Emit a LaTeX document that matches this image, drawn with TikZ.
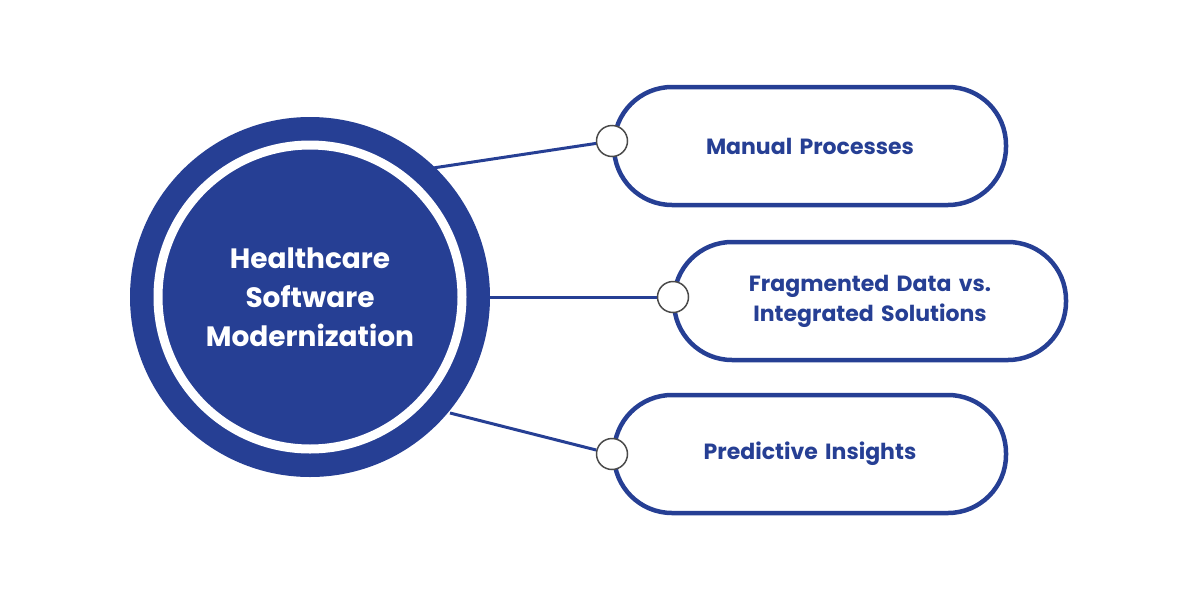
\documentclass[tikz,border=0pt]{standalone}
\usepackage{fontspec}
\setmainfont{Poppins}
\usetikzlibrary{positioning}
\definecolor{hcblue}{HTML}{263F94}
\definecolor{hcgray}{HTML}{4A4A4A}

\begin{document}
\begin{tikzpicture}[
    x=1pt, y=-1pt,
    pill/.style={rectangle, draw=hcblue, line width=4.5pt, fill=white, rounded corners=58pt, minimum width=392pt, minimum height=118pt, text width=320pt, align=center, font=\fontsize{22}{30}\selectfont\bfseries, text=hcblue},
    knob/.style={circle, draw=hcgray, line width=1.5pt, fill=white, minimum size=31pt, inner sep=0pt},
    link/.style={draw=hcblue, line width=3pt}
]
\useasboundingbox (0,0) rectangle (1200,600);

% hub
\node[circle, fill=hcblue, minimum size=360pt, inner sep=0pt] (hub) at (310,297) {};
\node[circle, draw=white, line width=9pt, minimum size=304pt, inner sep=0pt] (ring) at (hub) {};
\node[font=\fontsize{28}{39}\selectfont\bfseries, text=white, align=center] (title) at (hub) {Healthcare\\Software\\Modernization};

% items
\node[pill] (manual) at (810,146) {Manual Processes};
\node[pill] (fragmented) at (870,301) {Fragmented Data vs.\\Integrated Solutions};
\node[pill] (predictive) at (810,454) {Predictive Insights};

\coordinate (hubA) at (433,168);
\coordinate (hubB) at (490,297);
\coordinate (hubC) at (450,413);

\node[knob] (knobA) at (612,141) {};
\node[knob] (knobB) at (673,297) {};
\node[knob] (knobC) at (612,454) {};

\draw[link] (hubA) -- (knobA);
\draw[link] (hubB) -- (knobB);
\draw[link] (hubC) -- (knobC);

\end{tikzpicture}
\end{document}
